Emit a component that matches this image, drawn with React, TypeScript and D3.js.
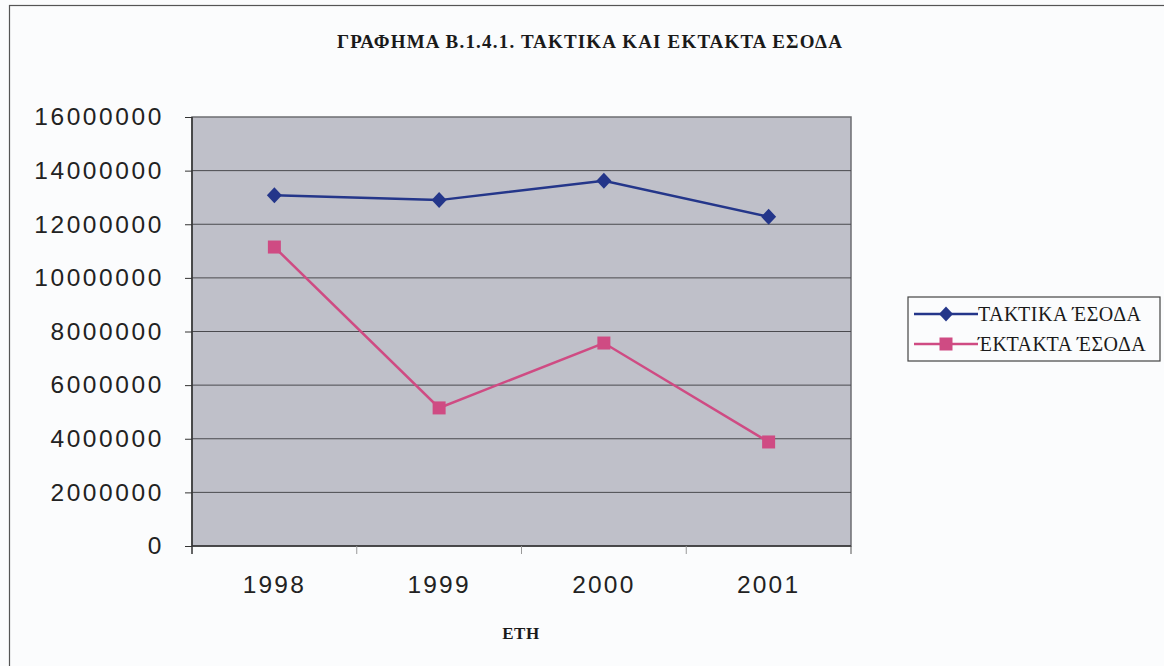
import React, { useEffect, useRef } from "react";
import * as d3 from "d3";

const years = ["1998", "1999", "2000", "2001"];
const taktika = [13080000, 12900000, 13620000, 12280000];
const ektakta = [11150000, 5150000, 7570000, 3880000];
const yTicks = [0, 2000000, 4000000, 6000000, 8000000, 10000000, 12000000, 14000000, 16000000];
const seriesNames = ["ΤΑΚΤΙΚΑ ΈΣΟΔΑ", "ΈΚΤΑΚΤΑ ΈΣΟΔΑ"];

function App() {
    const ref = useRef<SVGSVGElement>(null);

    useEffect(() => {
        const width = 1164;
        const height = 666;
        const marginLeft = 192;
        const marginRight = 313;
        const marginTop = 117;
        const marginBottom = 120;

        const svg = d3.select(ref.current);
        svg.selectAll("*").remove();

        svg.append("rect")
            .attr("width", width)
            .attr("height", height)
            .attr("fill", "#fbfcfd");

        // outer frame
        svg.append("rect")
            .attr("x", 9.5)
            .attr("y", 5.5)
            .attr("width", width - 5)
            .attr("height", height)
            .attr("fill", "none")
            .attr("stroke", "#555")
            .attr("stroke-width", 1.2);

        const x = d3.scaleBand()
            .domain(years)
            .range([marginLeft, width - marginRight]);

        const y = d3.scaleLinear()
            .domain([0, 16000000])
            .range([height - marginBottom, marginTop]);

        const plotW = width - marginRight - marginLeft;
        const plotH = height - marginBottom - marginTop;

        svg.append("rect")
            .attr("x", marginLeft)
            .attr("y", marginTop)
            .attr("width", plotW)
            .attr("height", plotH)
            .attr("fill", "#bfc0c9")
            .attr("stroke", "#6d6d72")
            .attr("stroke-width", 1.5);

        // gridlines
        svg.append("g")
            .selectAll("line")
            .data(yTicks.slice(1, -1))
            .join("line")
            .attr("x1", marginLeft)
            .attr("x2", width - marginRight)
            .attr("y1", d => y(d))
            .attr("y2", d => y(d))
            .attr("stroke", "#4a4a4e")
            .attr("stroke-width", 1);

        // y axis
        const yAxis = svg.append("g")
            .attr("transform", `translate(${marginLeft},0)`)
            .call(d3.axisLeft(y).tickValues(yTicks).tickFormat(d3.format("d")).tickSize(7).tickPadding(21));
        yAxis.select("path.domain").attr("stroke", "#333").attr("stroke-width", 1.5)
            .attr("d", `M0,${y(16000000)}V${height - marginBottom + 8}`);
        yAxis.selectAll(".tick line").attr("stroke", "#333");
        yAxis.selectAll(".tick text")
            .attr("font-family", "Liberation Sans, Arial, sans-serif")
            .attr("font-size", 24.5)
            .attr("letter-spacing", 2.6)
            .attr("fill", "#222");

        // x axis
        const xAxis = svg.append("g")
            .attr("transform", `translate(0,${height - marginBottom})`)
            .call(d3.axisBottom(x).tickSize(0).tickPadding(30));
        xAxis.select("path.domain").attr("stroke", "#333").attr("stroke-width", 1.5)
            .attr("d", `M${marginLeft},0H${width - marginRight}`);
        xAxis.selectAll(".tick text")
            .attr("font-family", "Liberation Sans, Arial, sans-serif")
            .attr("font-size", 24.5)
            .attr("letter-spacing", 2.2)
            .attr("fill", "#222");
        xAxis.selectAll(".sep")
            .data(years.slice(1))
            .join("line")
            .attr("class", "sep")
            .attr("x1", d => x(d)!)
            .attr("x2", d => x(d)!)
            .attr("y1", 0)
            .attr("y2", 8)
            .attr("stroke", "#999");
        xAxis.append("line")
            .attr("x1", width - marginRight)
            .attr("x2", width - marginRight)
            .attr("y1", 0)
            .attr("y2", 8)
            .attr("stroke", "#555");

        const line = d3.line<number>()
            .x((d, i) => x(years[i])! + x.bandwidth() / 2)
            .y(d => y(d));

        const blue = "#24368a";
        const pink = "#cf4b83";

        svg.append("path")
            .attr("d", line(ektakta))
            .attr("fill", "none")
            .attr("stroke", pink)
            .attr("stroke-width", 2.5);
        svg.append("g")
            .selectAll("rect")
            .data(ektakta)
            .join("rect")
            .attr("x", (d, i) => x(years[i])! + x.bandwidth() / 2 - 6.5)
            .attr("y", d => y(d) - 6.5)
            .attr("width", 13)
            .attr("height", 13)
            .attr("fill", pink);

        svg.append("path")
            .attr("d", line(taktika))
            .attr("fill", "none")
            .attr("stroke", blue)
            .attr("stroke-width", 2.5);
        svg.append("g")
            .selectAll("path")
            .data(taktika)
            .join("path")
            .attr("transform", (d, i) => `translate(${x(years[i])! + x.bandwidth() / 2},${y(d)})`)
            .attr("d", "M0,-8L7.5,0L0,8L-7.5,0Z")
            .attr("fill", blue);

        // title
        svg.append("text")
            .attr("x", 590)
            .attr("y", 48)
            .attr("text-anchor", "middle")
            .attr("font-family", "Liberation Serif, Times New Roman, serif")
            .attr("font-weight", "bold")
            .attr("font-size", 19)
            .attr("letter-spacing", 1.2)
            .attr("fill", "#1a1a1a")
            .text("ΓΡΑΦΗΜΑ Β.1.4.1. ΤΑΚΤΙΚΑ ΚΑΙ ΕΚΤΑΚΤΑ ΕΣΟΔΑ");

        svg.append("text")
            .attr("x", 521)
            .attr("y", 639)
            .attr("text-anchor", "middle")
            .attr("font-family", "Liberation Serif, Times New Roman, serif")
            .attr("font-weight", "bold")
            .attr("font-size", 17)
            .attr("letter-spacing", 0.6)
            .attr("fill", "#1a1a1a")
            .text("ΕΤΗ");

        // legend
        const legend = svg.append("g").attr("transform", "translate(908,297)");
        legend.append("rect")
            .attr("width", 252)
            .attr("height", 64)
            .attr("fill", "#fbfcfd")
            .attr("stroke", "#444")
            .attr("stroke-width", 1.2);
        const colors = [blue, pink];
        const items = legend.selectAll(".item")
            .data(seriesNames)
            .join("g")
            .attr("class", "item")
            .attr("transform", (d, i) => `translate(0,${17 + i * 30})`);
        items.append("line")
            .attr("x1", 6)
            .attr("x2", 70)
            .attr("stroke", (d, i) => colors[i])
            .attr("stroke-width", 2.5);
        items.append("path")
            .attr("transform", "translate(38,0)")
            .attr("d", (d, i) => i === 0 ? "M0,-7.5L7,0L0,7.5L-7,0Z" : "M-6.5,-6.5H6.5V6.5H-6.5Z")
            .attr("fill", (d, i) => colors[i]);
        items.append("text")
            .attr("x", 70)
            .attr("dy", "0.35em")
            .attr("font-family", "Liberation Serif, Times New Roman, serif")
            .attr("font-size", 20)
            .attr("letter-spacing", 0.5)
            .attr("fill", "#1a1a1a")
            .text(d => d);
    }, []);

    return (
        <svg ref={ref} width={1164} height={666}
            style={{ position: "absolute", left: 0, top: 0, display: "block" }} />
    );
}

export default App;
